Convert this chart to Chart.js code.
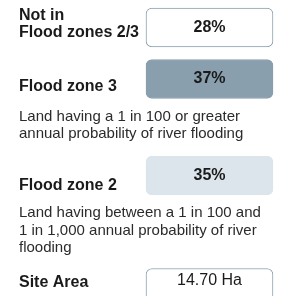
<!DOCTYPE html>
<html>
<head>
<meta charset="utf-8">
<script src="https://cdn.jsdelivr.net/npm/chart.js@4.4.0/dist/chart.umd.min.js"></script>
<style>
  html, body { margin: 0; padding: 0; background: #fff; }
  #wrap { width: 288px; height: 296px; }
</style>
</head>
<body>
<div id="wrap"><canvas id="zones" width="288" height="296"></canvas></div>
<script>
// data
const categories = ['Not in\nFlood zones 2/3', 'Flood zone 3', 'Flood zone 2', 'Site Area'];
const shares = [28, 37, 35];
const siteArea = 14.70;
const descriptions = [
  '',
  'Land having a 1 in 100 or greater\nannual probability of river flooding',
  'Land having between a 1 in 100 and\n1 in 1,000 annual probability of river\nflooding',
  ''
];
const valueLabels = shares.map(v => v + '%').concat([siteArea.toFixed(2) + ' Ha']);

// layout (pixels) and styles
const rowCenters = [27.5, 79, 175.5, 288];
const labelShift = [-3.5, 7.5, 10, -5];
const BOX_LEFT = 146, BOX_RIGHT = 273;
const fills = ['#ffffff', '#8a9fae', '#dce5eb', '#ffffff'];
const strokes = ['#8a9fae', '#8a9fae', '#dce5eb', '#8a9fae'];
const FONT = '"Liberation Sans", Arial, Helvetica, sans-serif';

const textPlugin = {
  id: 'zoneText',
  afterDatasetsDraw(chart) {
    const ctx = chart.ctx;
    const bars = chart.getDatasetMeta(0).data;
    ctx.save();
    ctx.textBaseline = 'middle';
    bars.forEach((bar, i) => {
      const top = bar.y - bar.height / 2;
      const cx = (bar.x + bar.base) / 2;
      // value inside box
      const vy = top + bar.height > chart.chartArea.bottom ? top + 12.5 : bar.y;
      ctx.fillStyle = '#1a1a1a';
      ctx.textAlign = 'center';
      ctx.font = (i < shares.length ? 'bold ' : '') + '16px ' + FONT;
      ctx.fillText(valueLabels[i], cx, vy);
      // category label
      ctx.textAlign = 'left';
      ctx.font = 'bold 16px ' + FONT;
      const lines = categories[i].split('\n');
      const y0 = bar.y + labelShift[i] - (lines.length - 1) * 17 / 2;
      lines.forEach((l, k) => ctx.fillText(l, 19, y0 + k * 17));
      // description
      if (descriptions[i]) {
        ctx.font = '15px ' + FONT;
        ctx.fillStyle = '#2b2b2b';
        descriptions[i].split('\n').forEach((l, k) => ctx.fillText(l, 19, bar.y + 37.5 + k * 17.5));
      }
    });
    ctx.restore();
  }
};

new Chart(document.getElementById('zones'), {
  type: 'bar',
  data: {
    datasets: [{
      data: categories.map((c, i) => ({ x: [BOX_LEFT, BOX_RIGHT], y: rowCenters[i] })),
      backgroundColor: fills,
      borderColor: strokes,
      borderWidth: 1,
      borderSkipped: false,
      borderRadius: 6,
      barThickness: 39
    }]
  },
  options: {
    indexAxis: 'y',
    responsive: false,
    animation: false,
    layout: { padding: 0 },
    plugins: { legend: { display: false }, tooltip: { enabled: false } },
    scales: {
      x: { type: 'linear', min: 0, max: 288, display: false, offset: false },
      y: { type: 'linear', min: 0, max: 296, reverse: true, display: false, offset: false }
    }
  },
  plugins: [textPlugin]
});
</script>
</body>
</html>
